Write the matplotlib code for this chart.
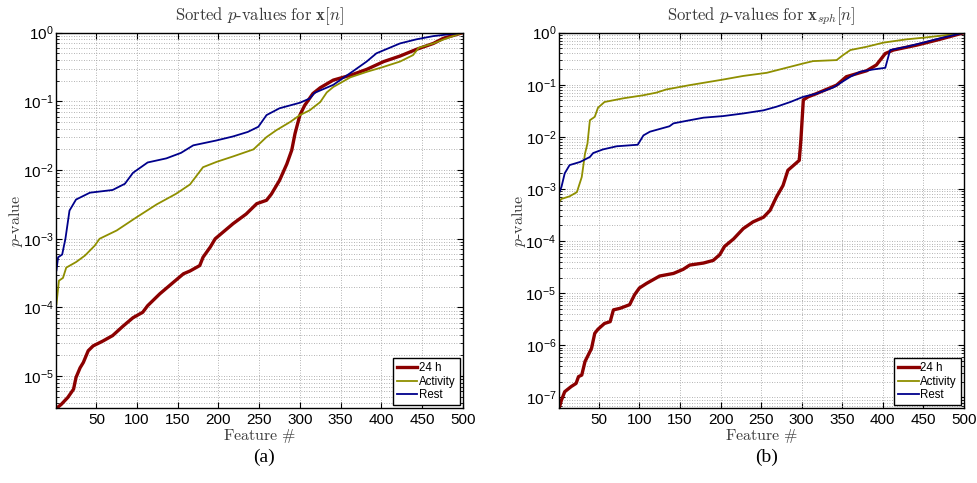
import numpy as np
import matplotlib
matplotlib.use("Agg")
import matplotlib.pyplot as plt
from matplotlib.ticker import FixedLocator, FuncFormatter, LogLocator, NullFormatter

plt.rcParams['mathtext.fontset'] = 'custom'
plt.rcParams['mathtext.rm'] = 'Liberation Sans'
plt.rcParams['mathtext.it'] = 'Liberation Sans:italic'
plt.rcParams['mathtext.bf'] = 'Liberation Sans:bold'
plt.rcParams['font.family'] = ['Liberation Sans', 'DejaVu Sans']

# ---------------- data: panel (a) ----------------
a_h24_x = [1, 7, 15, 22, 25, 30, 34, 40, 46, 58, 70, 83, 95, 107, 113, 128, 144, 157, 165, 177,
           181, 190, 196, 218, 234, 247, 259, 265, 275, 284, 290, 294, 300, 306, 316, 325, 341,
           362, 382, 403, 423, 443, 464, 476, 500]
a_h24_p = [3.39e-6, 3.89e-6, 4.90e-6, 6.46e-6, 9.55e-6, 1.32e-5, 1.58e-5, 2.34e-5, 2.75e-5, 3.24e-5,
           3.89e-5, 5.37e-5, 7.08e-5, 8.51e-5, 1.06e-4, 1.58e-4, 2.29e-4, 3.09e-4, 3.39e-4, 4.07e-4,
           5.37e-4, 7.59e-4, 1.0e-3, 1.66e-3, 2.29e-3, 3.24e-3, 3.63e-3, 4.47e-3, 7.08e-3, 1.23e-2,
           1.95e-2, 3.39e-2, 6.31e-2, 8.79e-2, 0.130, 0.158, 0.204, 0.240, 0.292, 0.380, 0.457,
           0.571, 0.698, 0.826, 1.0]

a_act_x = [1, 4, 9, 13, 25, 36, 48, 54, 75, 99, 124, 148, 165, 181, 198, 218, 243, 259, 271, 288,
           300, 312, 325, 333, 341, 362, 382, 402, 423, 439, 446, 464, 480, 500]
a_act_p = [1.12e-4, 2.45e-4, 2.69e-4, 3.80e-4, 4.57e-4, 5.69e-4, 7.94e-4, 1.0e-3, 1.32e-3, 2.04e-3,
           3.16e-3, 4.52e-3, 6.17e-3, 1.10e-2, 1.32e-2, 1.58e-2, 2.0e-2, 3.02e-2, 3.80e-2, 5.01e-2,
           6.31e-2, 7.41e-2, 9.77e-2, 0.135, 0.162, 0.224, 0.269, 0.316, 0.380, 0.472, 0.603,
           0.698, 0.826, 1.0]

a_rest_x = [1, 3, 8, 12, 17, 25, 42, 70, 85, 95, 113, 136, 154, 169, 197, 218, 236, 249, 259, 275,
            300, 312, 318, 341, 366, 382, 394, 423, 443, 464, 500]
a_rest_p = [3.47e-4, 5.37e-4, 5.89e-4, 1.0e-3, 2.57e-3, 3.72e-3, 4.68e-3, 5.13e-3, 6.31e-3, 9.12e-3,
            1.29e-2, 1.48e-2, 1.78e-2, 2.29e-2, 2.69e-2, 3.09e-2, 3.59e-2, 4.27e-2, 6.31e-2, 7.94e-2,
            9.55e-2, 0.110, 0.133, 0.174, 0.279, 0.380, 0.501, 0.698, 0.80, 0.893, 1.0]

# ---------------- data: panel (b) ----------------
b_h24_x = [1, 4, 8, 16, 22, 25, 29, 33, 41, 45, 49, 57, 64, 68, 76, 88, 94, 100, 109, 125, 142, 154,
           162, 179, 191, 199, 205, 216, 228, 240, 253, 261, 269, 277, 283, 290, 297, 299, 302, 308,
           318, 343, 355, 380, 392, 403, 413, 442, 470, 500]
b_h24_p = [6.17e-8, 8.91e-8, 1.29e-7, 1.62e-7, 1.86e-7, 2.51e-7, 2.69e-7, 4.90e-7, 8.71e-7, 1.70e-6,
           2.04e-6, 2.63e-6, 2.85e-6, 4.79e-6, 5.13e-6, 6.03e-6, 9.33e-6, 1.26e-5, 1.55e-5, 2.14e-5,
           2.40e-5, 2.88e-5, 3.47e-5, 3.80e-5, 4.27e-5, 5.50e-5, 7.94e-5, 1.10e-4, 1.74e-4, 2.34e-4,
           2.88e-4, 3.89e-4, 7.08e-4, 1.17e-3, 2.29e-3, 2.85e-3, 3.55e-3, 8.71e-3, 5.13e-2, 5.89e-2,
           6.76e-2, 9.86e-2, 0.143, 0.186, 0.240, 0.398, 0.465, 0.579, 0.745, 1.0]

b_act_x = [1, 4, 14, 23, 29, 33, 36, 39, 45, 49, 57, 80, 105, 121, 133, 162, 203, 228, 257, 286,
           302, 314, 343, 351, 360, 380, 401, 429, 450, 479, 500]
b_act_p = [5.62e-4, 6.46e-4, 7.24e-4, 8.71e-4, 1.70e-3, 4.79e-3, 7.41e-3, 2.09e-2, 2.43e-2, 3.63e-2,
           4.68e-2, 5.50e-2, 6.31e-2, 7.08e-2, 8.13e-2, 9.86e-2, 0.126, 0.148, 0.170, 0.222, 0.257,
           0.285, 0.298, 0.372, 0.465, 0.537, 0.646, 0.745, 0.802, 0.902, 1.0]

b_rest_x = [1, 4, 8, 14, 27, 39, 43, 55, 72, 98, 105, 113, 137, 142, 162, 179, 203, 228, 253, 269,
            286, 302, 318, 339, 360, 372, 388, 403, 409, 429, 450, 470, 500]
b_rest_p = [8.32e-4, 1.10e-3, 2.0e-3, 2.88e-3, 3.31e-3, 4.12e-3, 4.90e-3, 5.75e-3, 6.61e-3, 7.08e-3,
            1.07e-2, 1.26e-2, 1.60e-2, 1.82e-2, 2.09e-2, 2.34e-2, 2.51e-2, 2.82e-2, 3.24e-2, 3.80e-2,
            4.68e-2, 5.89e-2, 6.76e-2, 8.91e-2, 0.143, 0.178, 0.197, 0.212, 0.465, 0.537, 0.646,
            0.778, 1.0]

series_labels = ['24 h', 'Activity', 'Rest']
x_ticks = [50, 100, 150, 200, 250, 300, 350, 400, 450, 500]
titles = [r'$\mathrm{Sorted}\ p\mathrm{\text{-}values\ for\ }\mathbf{x}[n]$',
          r'$\mathrm{Sorted}\ p\mathrm{\text{-}values\ for\ }\mathbf{x}_{sph}[n]$']
panel_labels = ['(a)', '(b)']
ylims = [(3.4e-6, 1.0), (6.2e-8, 1.0)]

colors = ['#8b0000', '#8f8f00', '#00008b']
widths = [2.4, 1.3, 1.3]

fig = plt.figure(figsize=(9.77, 4.83), dpi=100)
positions = [[0.0578, 0.1547, 0.4158, 0.7776], [0.5722, 0.1547, 0.4145, 0.7776]]
panels = [
    [(a_h24_x, a_h24_p), (a_act_x, a_act_p), (a_rest_x, a_rest_p)],
    [(b_h24_x, b_h24_p), (b_act_x, b_act_p), (b_rest_x, b_rest_p)],
]

text_col = '#3a3a3a'
grid_kw = dict(linestyle=(0, (1, 2)), color='#9a9a9a', lw=0.6)
for i in range(2):
    ax = fig.add_axes(positions[i])
    for (xs, ps), c, lw, lab in zip(panels[i], colors, widths, series_labels):
        ax.plot(xs, ps, color=c, lw=lw, label=lab, solid_joinstyle='round')
    ax.set_yscale('log')
    ax.set_xlim(1, 500)
    ax.set_ylim(*ylims[i])
    ax.xaxis.set_major_locator(FixedLocator(x_ticks))
    ax.yaxis.set_major_locator(LogLocator(base=10, numticks=20))
    ax.yaxis.set_minor_locator(LogLocator(base=10, subs=np.arange(2, 10), numticks=20))
    ax.yaxis.set_minor_formatter(NullFormatter())
    ax.yaxis.set_major_formatter(FuncFormatter(lambda v, p: r'$10^{%d}$' % int(round(np.log10(v)))))
    ax.tick_params(which='both', direction='in', top=True, right=True)
    ax.tick_params(axis='x', labelsize=11, pad=3.5)
    ax.tick_params(axis='y', labelsize=11, pad=2)
    ax.tick_params(which='major', length=4, width=0.8)
    ax.tick_params(which='minor', length=2, width=0.6)
    ax.grid(True, which='major', axis='both', **grid_kw)
    ax.grid(True, which='minor', axis='y', **grid_kw)
    for s in ax.spines.values():
        s.set_linewidth(1.0)
    t = ax.text(0.5, 1.044, titles[i], transform=ax.transAxes, ha='center', va='center',
                fontsize=12, color=text_col)
    t.set_math_fontfamily('cm')
    xl = ax.set_xlabel(r'$\mathrm{Feature}\ \#$', fontsize=11.5, color=text_col)
    xl.set_math_fontfamily('cm')
    xl.set_va('center')
    ax.xaxis.set_label_coords(0.5, -0.075)
    yl = ax.set_ylabel(r'$p\mathrm{\text{-}value}$', fontsize=11.5, color=text_col)
    yl.set_math_fontfamily('cm')
    yl.set_va('center')
    ax.yaxis.set_label_coords(-0.1, 0.5)
    leg = ax.legend(loc='lower right', fontsize=8.3, frameon=True, fancybox=False,
                    edgecolor='black', framealpha=1, borderaxespad=0.25, handlelength=1.8,
                    handletextpad=0.15, borderpad=0.35, labelspacing=0.15)
    leg.get_frame().set_linewidth(1.0)
    fig.text(positions[i][0] + positions[i][2] / 2 + 0.005, 0.054, panel_labels[i],
             ha='center', va='center', fontsize=14, family='Liberation Serif')

fig.savefig('out.png', dpi=100)
